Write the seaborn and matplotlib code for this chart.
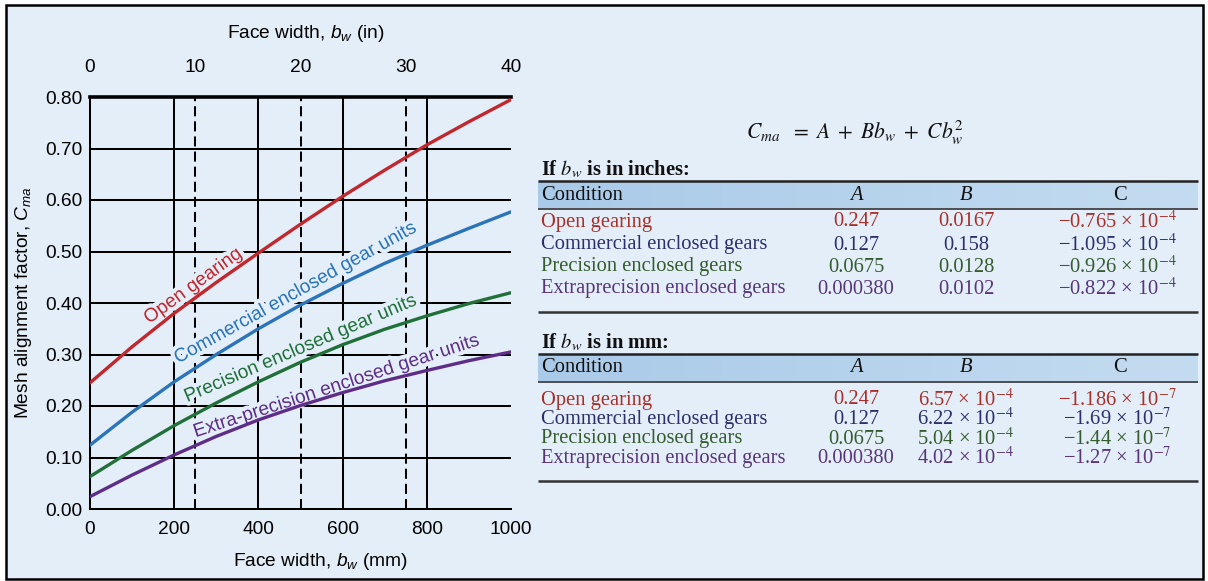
import numpy as np
import pandas as pd
import matplotlib
matplotlib.use("Agg")
import matplotlib.pyplot as plt
import matplotlib.patheffects as pe
from matplotlib.patches import Rectangle
import seaborn as sns

# ---------------- data ----------------
face_width_mm = [0, 100, 200, 300, 400, 500, 600, 700, 800, 900, 1000]
open_gearing = [0.245, 0.315, 0.380, 0.440, 0.497, 0.553, 0.607, 0.658, 0.707, 0.752, 0.795]
commercial = [0.124, 0.188, 0.247, 0.300, 0.350, 0.396, 0.438, 0.477, 0.512, 0.545, 0.577]
precision = [0.063, 0.114, 0.162, 0.206, 0.247, 0.285, 0.319, 0.349, 0.375, 0.399, 0.420]
extra_precision = [0.024, 0.066, 0.105, 0.141, 0.173, 0.201, 0.226, 0.249, 0.269, 0.288, 0.305]

curve_names = ["Open gearing", "Commercial enclosed gear units",
               "Precision enclosed gear units", "Extra-precision enclosed gear units"]
curve_colors = ["#c1272d", "#2b74b9", "#21703a", "#5e2d88"]

mm_ticks = [0, 200, 400, 600, 800, 1000]
inch_ticks = [0, 10, 20, 30, 40]
cma_ticks = [0.0, 0.1, 0.2, 0.3, 0.4, 0.5, 0.6, 0.7, 0.8]
cma_tick_labels = ["0.00", "0.10", "0.20", "0.30", "0.40", "0.50", "0.60", "0.70", "0.80"]
MM_PER_IN = 25.0

# table contents
conditions = ["Open gearing", "Commercial enclosed gears",
              "Precision enclosed gears", "Extraprecision enclosed gears"]
table_colors = ["#a8302b", "#2b2f6c", "#345c2c", "#573578"]
inch_A = ["0.247", "0.127", "0.0675", "0.000380"]
inch_B = ["0.0167", "0.158", "0.0128", "0.0102"]
inch_C = ["\u22120.765 \u00d7 10$^{-4}$", "\u22121.095 \u00d7 10$^{-4}$",
          "\u22120.926 \u00d7 10$^{-4}$", "\u22120.822 \u00d7 10$^{-4}$"]
mm_A = ["0.247", "0.127", "0.0675", "0.000380"]
mm_B = ["6.57 \u00d7 10$^{-4}$", "6.22 \u00d7 10$^{-4}$",
        "5.04 \u00d7 10$^{-4}$", "4.02 \u00d7 10$^{-4}$"]
mm_C = ["\u22121.186 \u00d7 10$^{-7}$", "\u22121.69 \u00d7 10$^{-7}$",
        "\u22121.44 \u00d7 10$^{-7}$", "\u22121.27 \u00d7 10$^{-7}$"]

# ---------------- style ----------------
sns.set_theme(style="white")
plt.rcParams["font.family"] = ["Liberation Sans", "DejaVu Sans"]
plt.rcParams["mathtext.fontset"] = "custom"
plt.rcParams["mathtext.rm"] = "Liberation Sans"
plt.rcParams["mathtext.it"] = "Liberation Sans:italic"
plt.rcParams["mathtext.bf"] = "Liberation Sans:bold"

BG = "#e3eef8"
W, H = 1208, 581
fig = plt.figure(figsize=(W / 100, H / 100), dpi=100, facecolor="white")

# full-figure layer in pixel units: panel, frame, axis titles and the coefficient tables
panel = fig.add_axes([0, 0, 1, 1], zorder=-10)
panel.axis("off")
panel.add_patch(Rectangle((6, 5), 1197, 574, facecolor=BG, edgecolor="black",
                          linewidth=1.8, zorder=0.5))

# ---------------- chart ----------------
ax = fig.add_axes([90 / W, (H - 509) / H, 421 / W, 412 / H])
ax.set_facecolor("none")

df = pd.DataFrame({
    "face_width_mm": face_width_mm * 4,
    "cma": open_gearing + commercial + precision + extra_precision,
    "condition": [n for n in curve_names for _ in face_width_mm],
})
sns.lineplot(data=df, x="face_width_mm", y="cma", hue="condition",
             hue_order=curve_names, palette=curve_colors, linewidth=2.4,
             legend=False, ax=ax, zorder=4, estimator=None)

ax.set_xlim(0, 1000)
ax.set_ylim(0, 0.8)

grid_kw = dict(color="black", linewidth=1.45, zorder=1)
for v in cma_ticks[1:-1]:
    ax.axhline(v, **grid_kw)
for m in mm_ticks[1:-1]:
    ax.axvline(m, **grid_kw)
for i in inch_ticks[1:-1]:
    ax.axvline(i * MM_PER_IN, linestyle=(0, (5, 2.5)), **grid_kw)

for side in ["left", "bottom"]:
    ax.spines[side].set_color("black")
    ax.spines[side].set_linewidth(1.45)
ax.spines["top"].set_color("black")
ax.spines["top"].set_linewidth(2.6)
ax.spines["right"].set_visible(False)

ax.set_xticks(mm_ticks)
ax.set_xticklabels([str(t) for t in mm_ticks])
ax.set_yticks(cma_ticks)
ax.set_yticklabels(cma_tick_labels)
ax.tick_params(axis="x", length=0, pad=8.5, labelsize=13.8, colors="black")
ax.tick_params(axis="y", length=0, pad=5.5, labelsize=13.8, colors="black")
ax.set_xlabel("")
ax.set_ylabel(r"Mesh alignment factor, $C_{ma}$", fontsize=13.8, color="black", labelpad=8)

top = ax.secondary_xaxis("top", functions=(lambda mm: mm / MM_PER_IN, lambda i: i * MM_PER_IN))
top.set_xticks(inch_ticks)
top.set_xticklabels([str(t) for t in inch_ticks])
top.tick_params(length=0, pad=15, labelsize=13.8, colors="black")
top.spines[:].set_visible(False)

# curve labels, with a halo that breaks the grid lines beneath them
halo = [pe.withStroke(linewidth=6, foreground=BG)]
label_spots = [(245, 0.432, 36), (487, 0.418, 29), (499, 0.310, 23), (584, 0.237, 18)]
for name, color, (xm, yv, rot) in zip(curve_names, curve_colors, label_spots):
    ax.text(xm, yv, name, color=color, fontsize=13.8, rotation=rot,
            rotation_mode="anchor", ha="center", va="center", zorder=3,
            path_effects=halo)

# ---------------- axis titles ----------------
panel.text(306, 33, r"Face width, $b_w$ (in)", fontsize=13.8, ha="center", va="center", color="black")
panel.text(320, 561, r"Face width, $b_w$ (mm)", fontsize=13.8, ha="center", va="center", color="black")

# ---------------- coefficient tables ----------------
serif = ["Liberation Serif", "DejaVu Serif"]
TFS = 14.8
col_cond, col_A, col_B, col_C = 541, 856, 966, 1120
left_rule, right_rule = 538, 1198

panel.text(855, 133, r"$C_{ma}\ \ =\ A\ +\ Bb_w\ +\ Cb_w^2$", fontsize=15.5,
           math_fontfamily="stix", ha="center", va="center", color="#111111")

grad = np.linspace(0, 1, 256)[None, :]
band_cmap = matplotlib.colors.LinearSegmentedColormap.from_list("band", ["#a9cae8", "#c4dcf1"])


def draw_table(title, top_y, row_ys, bottom_y, A, B, C):
    panel.text(col_cond, top_y - 12, title, fontsize=TFS, fontweight="bold",
               family=serif, math_fontfamily="stix", ha="left", va="center", color="#111111")
    panel.imshow(grad, extent=(left_rule, right_rule, top_y + 27, top_y), cmap=band_cmap,
                 aspect="auto", zorder=1)
    panel.hlines(top_y, left_rule, right_rule, color="#222222", linewidth=1.8, zorder=2)
    panel.hlines(top_y + 28, left_rule, right_rule, color="#222222", linewidth=1.1, zorder=2)
    panel.hlines(bottom_y, left_rule, right_rule, color="#333333", linewidth=1.8, zorder=2)
    hy = top_y + 14
    panel.text(col_cond, hy, "Condition", fontsize=TFS, family=serif, ha="left", va="center", color="#111111")
    panel.text(col_A, hy, "A", fontsize=TFS, family=serif, style="italic", ha="center", va="center", color="#111111")
    panel.text(col_B, hy, "B", fontsize=TFS, family=serif, style="italic", ha="center", va="center", color="#111111")
    panel.text(col_C, hy, "C", fontsize=TFS, family=serif, ha="center", va="center", color="#111111")
    for y, cond, a, b, c, color in zip(row_ys, conditions, A, B, C, table_colors):
        kw = dict(fontsize=TFS, family=serif, math_fontfamily="stix", va="center", color=color)
        panel.text(col_cond, y, cond, ha="left", **kw)
        panel.text(col_A, y, a, ha="center", **kw)
        panel.text(col_B, y, b, ha="center", **kw)
        panel.text(col_C - 3, y, c, ha="center", **kw)


draw_table(r"If $b_w$ is in inches:", 181, [222, 245, 267, 289], 312, inch_A, inch_B, inch_C)
draw_table(r"If $b_w$ is in mm:", 354, [400, 419.5, 439, 458.5], 481, mm_A, mm_B, mm_C)

# keep the pixel frame after imshow has autoscaled
panel.set_xlim(0, W)
panel.set_ylim(H, 0)

fig.savefig("out.png", dpi=100, facecolor="white")
